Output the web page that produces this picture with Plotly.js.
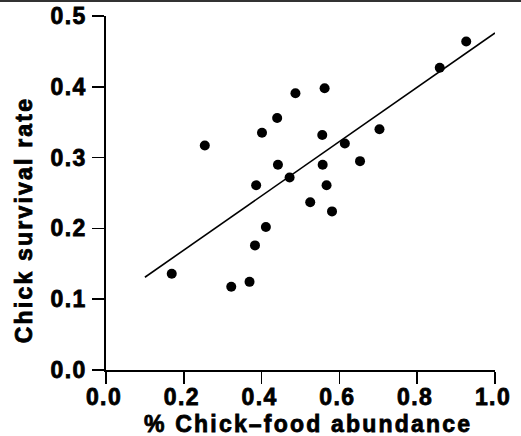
<!DOCTYPE html>
<html>
<head>
<meta charset="utf-8">
<script src="https://cdn.plot.ly/plotly-3.0.1.min.js"></script>
<style>
  html, body { margin: 0; padding: 0; background: #fff; }
  #chart { width: 521px; height: 436px; }
  #topline { position: absolute; left: 0; top: 0; width: 521px; height: 2px; background: #333; z-index: 10; }
  .xtick text, .ytick text { letter-spacing: 1.4px; stroke: #000; stroke-width: 0.8px; }
  .annotation-text { letter-spacing: 2.2px; stroke: #000; stroke-width: 0.8px; }
</style>
</head>
<body>
<div id="topline"></div>
<div id="chart"></div>
<script>
// Data
const foodAbundance = [0.169, 0.254, 0.322, 0.369, 0.383, 0.386, 0.401, 0.411, 0.440, 0.442, 0.472, 0.487, 0.525, 0.556, 0.562, 0.557, 0.567, 0.581, 0.614, 0.653, 0.703, 0.858, 0.926];
const survivalRate = [0.136, 0.317, 0.1175, 0.1245, 0.176, 0.261, 0.335, 0.202, 0.356, 0.290, 0.272, 0.391, 0.237, 0.332, 0.398, 0.290, 0.261, 0.224, 0.320, 0.295, 0.340, 0.427, 0.464];
// Fitted regression line end points
const fitX = [0.10, 1.0];
const fitY = [0.131, 0.476];

const xTitle = '% Chick\u2013food abundance';
const yTitle = 'Chick survival rate';

const FONT = 'Liberation Sans, Arial, sans-serif';

const traces = [
  {
    x: fitX, y: fitY, mode: 'lines', type: 'scatter',
    line: { color: '#000', width: 1.6 }, hoverinfo: 'skip'
  },
  {
    x: foodAbundance, y: survivalRate, mode: 'markers', type: 'scatter',
    marker: { color: '#000', size: 10 }
  }
];

const axisCommon = {
  showgrid: false, zeroline: false, showline: true,
  linecolor: '#000', linewidth: 1.6,
  ticks: 'outside', ticklen: 12, tickwidth: 1.6, tickcolor: '#000',
  tickfont: { family: FONT, size: 23, color: '#000', weight: 'bold' },
  tickformat: '.1f', fixedrange: true
};

const layout = {
  width: 521, height: 436,
  margin: { l: 106, r: 26, t: 16, b: 66, pad: 0 },
  paper_bgcolor: '#fff', plot_bgcolor: '#fff',
  showlegend: false,
  xaxis: Object.assign({}, axisCommon, { range: [0, 1], dtick: 0.2, tick0: 0, ticklabelstandoff: -6, ticklabelshift: -2 }),
  yaxis: Object.assign({}, axisCommon, { range: [0, 0.5], dtick: 0.1, tick0: 0, ticklabelstandoff: 1 }),
  annotations: [
    {
      text: xTitle, xref: 'paper', yref: 'paper', x: 0.518, y: -0.152,
      xanchor: 'center', yanchor: 'middle', showarrow: false,
      font: { family: FONT, size: 23, color: '#000', weight: 'bold' }
    },
    {
      text: yTitle, xref: 'paper', yref: 'paper', x: -0.21, y: 0.424,
      xanchor: 'center', yanchor: 'middle', showarrow: false, textangle: -90,
      font: { family: FONT, size: 23, color: '#000', weight: 'bold' }
    }
  ]
};

Plotly.newPlot('chart', traces, layout, { displayModeBar: false, staticPlot: true });
</script>
</body>
</html>
